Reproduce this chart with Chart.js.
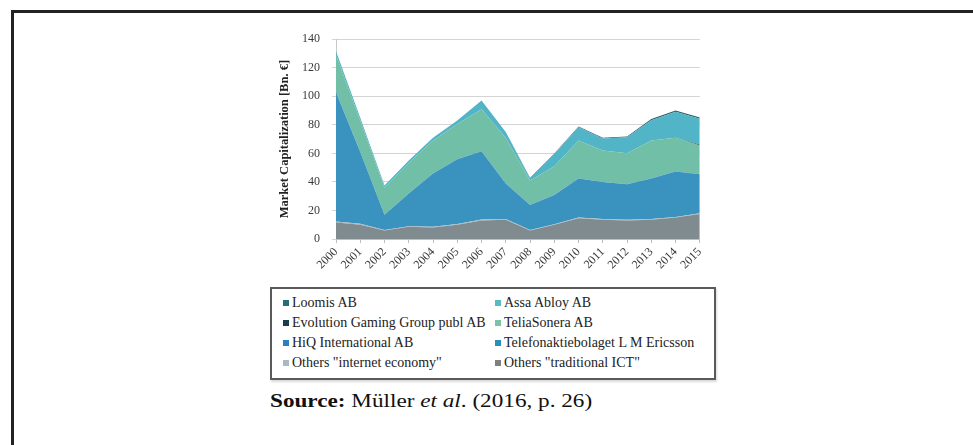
<!DOCTYPE html>
<html>
<head>
<meta charset="utf-8">
<script src="https://cdn.jsdelivr.net/npm/chart.js@4"></script>
<style>
  html, body { margin: 0; padding: 0; background: #fff; }
  body { width: 973px; height: 445px; position: relative; overflow: hidden; }
  #frame { position: absolute; left: 11px; top: 10px; width: 1000px; height: 500px;
           border-top: 3px solid #222; border-left: 3px solid #222; }
  #chartBox { position: absolute; left: 272px; top: 20px; width: 440px; height: 260px; }
  #legend { position: absolute; left: 270px; top: 287px; width: 442px; height: 89px;
            border: 2px solid #5a5a5a; box-shadow: 1px 2px 2px rgba(0,0,0,0.15);
            font-family: "Liberation Serif", "Times New Roman", serif; font-size: 14px; color: #222; }
  .item { position: absolute; height: 20px; line-height: 20px; white-space: nowrap; }
  .mk { display: inline-block; width: 6px; height: 6px; margin-right: 3px; vertical-align: 1px; }
  #source { position: absolute; left: 270px; top: 391px; line-height: 19px; white-space: nowrap;
            font-family: "Liberation Serif", "Times New Roman", serif; font-size: 19px; color: #111;
            transform-origin: 0 0; transform: scaleX(1.22); }
</style>
</head>
<body>
<div id="frame"></div>
<div id="chartBox"><canvas id="c"></canvas></div>
<div id="legend"></div>
<div id="source"><b>Source:</b> Müller <i>et al</i>. (2016, p. 26)</div>
<script>
// ---- data (Bn. €) ----
const years = ['2000','2001','2002','2003','2004','2005','2006','2007','2008','2009','2010','2011','2012','2013','2014','2015'];
const othersTraditionalICT = [11.5, 10, 6, 8.5, 8, 10, 13, 13.5, 6, 10, 14.5, 13.5, 13, 13.5, 15, 17.5];
const othersInternetEconomy = [0.8, 0.6, 0.3, 0.4, 0.5, 0.5, 0.6, 0.5, 0.3, 0.4, 0.5, 0.5, 0.5, 0.5, 0.5, 0.5];
const ericsson = [90.5, 50.3, 10.7, 23.0, 37.4, 45.4, 47.8, 24.9, 17.6, 20.5, 27.4, 25.9, 24.9, 28.4, 31.8, 27.3];
const hiq = [0.2, 0.1, 0.05, 0.05, 0.1, 0.1, 0.1, 0.1, 0.05, 0.1, 0.1, 0.1, 0.1, 0.1, 0.2, 0.2];
const teliaSonera = [26, 22, 19, 21.5, 23, 24.5, 29.5, 32, 17, 20, 26.5, 22, 21.5, 26.5, 23.5, 20];
const evolutionGaming = [0, 0, 0, 0, 0, 0, 0, 0, 0, 0, 0, 0, 0, 0, 0, 0.5];
const assaAbloy = [2.5, 2, 1.5, 1.5, 2, 2.5, 6, 4, 1.7, 8.5, 9.3, 8.4, 11.3, 14.2, 18.2, 18.3];
const loomis = [0, 0, 0, 0, 0, 0, 0, 0, 0.3, 0.4, 0.5, 0.5, 0.5, 0.8, 0.8, 0.9];
const yTicks = [0, 20, 40, 60, 80, 100, 120, 140];

// stacking order bottom -> top
const series = [
  { label: 'Others "traditional ICT"', data: othersTraditionalICT, fill: '#7f8b8f', mark: '#7f7f7f' },
  { label: 'Others "internet economy"', data: othersInternetEconomy, fill: '#a6b6bf', mark: '#a9b8c2' },
  { label: 'Telefonaktiebolaget L M Ericsson', data: ericsson, fill: '#3a92bf', mark: '#2b8fb8' },
  { label: 'HiQ International AB', data: hiq, fill: '#2f80c0', mark: '#2a7fc0' },
  { label: 'TeliaSonera AB', data: teliaSonera, fill: '#71bfa6', mark: '#7cc2a6' },
  { label: 'Evolution Gaming Group publ AB', data: evolutionGaming, fill: '#1d3f4c', mark: '#1b3d4a' },
  { label: 'Assa Abloy AB', data: assaAbloy, fill: '#51b4c7', mark: '#56bcc0' },
  { label: 'Loomis AB', data: loomis, fill: '#2a5f6c', mark: '#2a6b78' }
];

const serif = '"Liberation Serif", "Times New Roman", serif';

new Chart(document.getElementById('c'), {
  type: 'line',
  data: {
    labels: years,
    datasets: series.map((s, i) => ({
      label: s.label,
      data: s.data,
      backgroundColor: s.fill,
      borderColor: s.fill,
      borderWidth: 0,
      pointRadius: 0,
      tension: 0,
      fill: i === 0 ? 'origin' : '-1'
    }))
  },
  options: {
    responsive: true,
    maintainAspectRatio: false,
    animation: false,
    layout: { padding: { top: 18, right: 10, bottom: 0, left: 0 } },
    plugins: { legend: { display: false }, tooltip: { enabled: false } },
    scales: {
      x: {
        grid: { display: true, drawOnChartArea: false, drawTicks: true, tickLength: 4, color: '#bfbfbf' },
        border: { display: true, color: '#bfbfbf' },
        ticks: { autoSkip: false, maxRotation: 45, minRotation: 45, padding: 2,
                 color: '#3a3a3a', font: { family: serif, size: 12 } },
        afterFit: (s) => { s.height = 41; }
      },
      y: {
        stacked: true,
        min: 0, max: 140,
        afterBuildTicks: (s) => { s.ticks = yTicks.map(v => ({ value: v })); },
        grid: { color: '#d4d4d4', lineWidth: 1, drawTicks: true, tickLength: 4 },
        border: { display: true, color: '#c8c8c8' },
        ticks: { padding: 12, color: '#3a3a3a', font: { family: serif, size: 12 } },
        title: { display: true, text: 'Market Capitalization [Bn. €]', color: '#222',
                 font: { family: serif, size: 12.5, weight: 'bold' }, padding: { top: 5, bottom: 0 } },
        afterFit: (s) => { s.width = 64; }
      }
    }
  }
});

// legend (two columns, same reading order as the original)
const legendOrder = [7, 6, 5, 4, 3, 2, 1, 0];
const lg = document.getElementById('legend');
legendOrder.forEach((idx, k) => {
  const s = series[idx];
  const col = k % 2, row = Math.floor(k / 2);
  const d = document.createElement('div');
  d.className = 'item';
  d.style.left = (col === 0 ? 11 : 223) + 'px';
  d.style.top = (4 + row * 20) + 'px';
  const m = document.createElement('span');
  m.className = 'mk';
  m.style.background = s.mark;
  d.appendChild(m);
  d.appendChild(document.createTextNode(s.label));
  lg.appendChild(d);
});
</script>
</body>
</html>
